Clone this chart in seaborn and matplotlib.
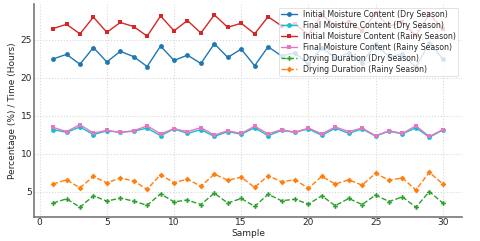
import seaborn as sns
import matplotlib.pyplot as plt
import pandas as pd

samples = list(range(1, 31))

initial_dry = [22.5, 23.1, 21.8, 24.0, 22.1, 23.5, 22.8, 21.5, 24.2, 22.3,
               23.0, 21.9, 24.5, 22.7, 23.8, 21.6, 24.1, 22.9, 23.3, 21.8,
               24.0, 22.6, 23.3, 22.0, 24.4, 22.8, 23.1, 21.4, 24.6, 22.5]
final_dry = [13.2, 12.85, 13.55, 12.55, 13.05, 12.85, 13.0, 13.4, 12.4, 13.3,
             12.7, 13.2, 12.3, 12.95, 12.6, 13.45, 12.4, 13.1, 12.85, 13.3,
             12.45, 13.4, 12.7, 13.3, 12.35, 13.0, 12.65, 13.45, 12.2, 13.15]
initial_rainy = [26.5, 27.05, 25.8, 28.0, 26.0, 27.3, 26.75, 25.5, 28.15, 26.2,
                 27.55, 25.9, 28.3, 26.65, 27.2, 25.8, 28.05, 26.85, 27.1, 25.7,
                 28.3, 26.9, 27.4, 26.2, 28.5, 26.8, 27.3, 25.6, 28.4, 26.5]
final_rainy = [13.5, 12.95, 13.85, 12.75, 13.1, 12.85, 13.05, 13.7, 12.65, 13.3,
               12.95, 13.45, 12.5, 13.05, 12.7, 13.65, 12.65, 13.2, 12.85, 13.4,
               12.65, 13.55, 12.95, 13.4, 12.4, 13.05, 12.7, 13.7, 12.3, 13.2]
drying_dry = [3.55, 4.1, 3.0, 4.5, 3.8, 4.2, 3.8, 3.25, 4.75, 3.7,
              3.95, 3.35, 4.85, 3.55, 4.15, 3.1, 4.7, 3.85, 4.05, 3.4,
              4.5, 3.2, 4.15, 3.35, 4.6, 3.75, 4.35, 3.0, 5.05, 3.55]
drying_rainy = [6.05, 6.6, 5.55, 7.05, 6.2, 6.85, 6.45, 5.35, 7.3, 6.2,
                6.7, 5.75, 7.35, 6.55, 6.95, 5.6, 7.15, 6.35, 6.6, 5.5,
                7.05, 6.05, 6.6, 5.9, 7.45, 6.55, 6.85, 5.25, 7.6, 6.05]

names = ["Initial Moisture Content (Dry Season)",
         "Final Moisture Content (Dry Season)",
         "Initial Moisture Content (Rainy Season)",
         "Final Moisture Content (Rainy Season)",
         "Drying Duration (Dry Season)",
         "Drying Duration (Rainy Season)"]
series = [initial_dry, final_dry, initial_rainy, final_rainy, drying_dry, drying_rainy]
colors = ["tab:blue", "tab:cyan", "tab:red", "tab:pink", "tab:green", "tab:orange"]
marks = ["o", "o", "s", "s", "P", "D"]
styles = ["-", "-", "-", "-", "--", "--"]

sns.set_style("whitegrid", {"grid.linestyle": ":", "grid.color": "#d8d8d8",
                            "axes.edgecolor": "#777777"})
plt.rcParams["font.size"] = 6.5

fig, ax = plt.subplots(figsize=(4.8, 2.41), dpi=100)
for n, v, c, m, ls in zip(names, series, colors, marks, styles):
    df = pd.DataFrame({"Sample": samples, "value": v})
    sns.lineplot(data=df, x="Sample", y="value", color=c, marker=m, linestyle=ls,
                 linewidth=1.0, markersize=3.5 if m != "D" else 3,
                 markeredgewidth=0, label=n, ax=ax)
for s in ["top", "right"]:
    ax.spines[s].set_visible(False)
for s in ["left", "bottom"]:
    ax.spines[s].set_linewidth(1.2)
ax.set_xlabel("Sample", fontsize=6.5, labelpad=1)
ax.set_ylabel("Percentage (%) / Time (Hours)", fontsize=6.5, labelpad=3)
ax.tick_params(labelsize=6.5, pad=1, length=0)
ax.set_xticks([0, 5, 10, 15, 20, 25, 30])
ax.set_yticks([5, 10, 15, 20, 25])
leg = ax.legend(loc="upper right", fontsize=5.6, framealpha=0.8, borderpad=0.3,
                labelspacing=0.25, handlelength=2.0)
leg.get_frame().set_linewidth(0.5)
fig.subplots_adjust(left=0.07, right=0.963, top=0.985, bottom=0.1)
fig.savefig("out.png", dpi=100)
